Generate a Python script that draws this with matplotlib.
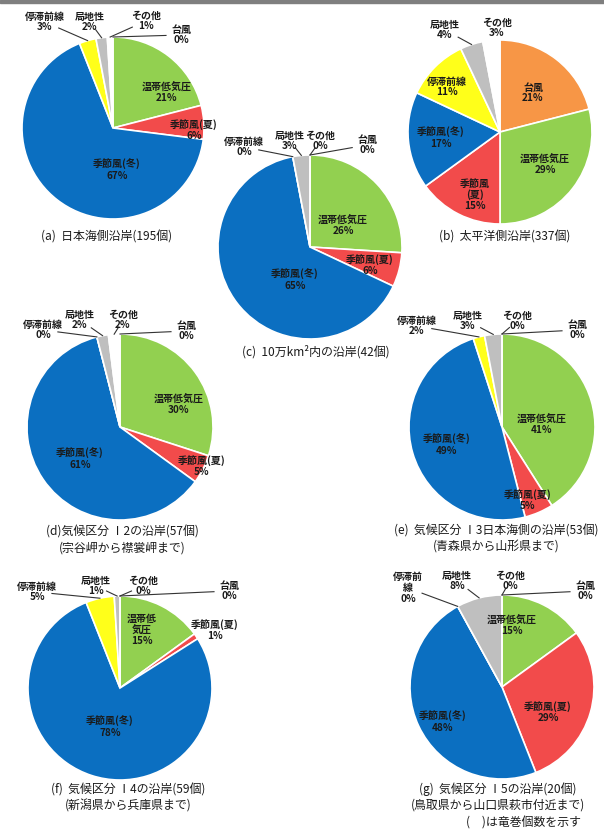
# tornado cause pie charts by coastal region

import numpy as np
import matplotlib
matplotlib.use('Agg')
import matplotlib.pyplot as plt
from matplotlib.patches import Rectangle

plt.rcParams['font.family'] = ['Noto Sans CJK JP', 'DejaVu Sans']

# categories, clockwise from 12 o'clock
causes = ['台風', '温帯低気圧', '季節風(夏)', '季節風(冬)', '停滞前線', '局地性', 'その他']
colors = ['#F79646', '#92D050', '#F24B4B', '#0B6FC1', '#FFFF1A', '#BFBFBF', '#FFFFFF']

# percentages per region (same order as causes)
pct_a = [0, 21, 6, 67, 3, 2, 1]
pct_b = [21, 29, 15, 17, 11, 4, 3]
pct_c = [0, 26, 6, 65, 0, 3, 0]
pct_d = [0, 30, 5, 61, 0, 2, 2]
pct_e = [0, 41, 5, 49, 2, 3, 0]
pct_f = [0, 15, 1, 78, 5, 1, 0]
pct_g = [0, 15, 29, 48, 0, 8, 0]

titles = [
    '(a)  日本海側沿岸(195個)',
    '(b)  太平洋側沿岸(337個)',
    '(c)  10万km²内の沿岸(42個)',
    '(d)気候区分 Ⅰ2の沿岸(57個)\n(宗谷岬から襟裳岬まで)',
    '(e)  気候区分 Ⅰ3日本海側の沿岸(53個)\n(青森県から山形県まで)',
    '(f)  気候区分 Ⅰ4の沿岸(59個)\n(新潟県から兵庫県まで)',
    '(g)  気候区分 Ⅰ5の沿岸(20個)\n(鳥取県から山口県萩市付近まで)',
]
data = [pct_a, pct_b, pct_c, pct_d, pct_e, pct_f, pct_g]

# layout in pixels (y from top): centre, radius, label centres, leader flags, title pos
layout = [
    dict(c=(113, 128), r=91, title=(107, 237),
         lab=[(181, 35), (167, 92), (194, 130), (117, 170), (45, 22), (90, 22), (146, 21)],
         lead=[1, 0, 0, 0, 1, 1, 1]),
    dict(c=(500, 132), r=92, title=(505, 237),
         lab=[(533, 93), (545, 164), (475, 195), (441, 138), (447, 87), (445, 30), (497, 28)],
         lead=[0, 0, 0, 0, 0, 1, 0]),
    dict(c=(310, 247), r=92, title=(316, 352),
         lab=[(367, 145), (343, 225), (370, 265), (295, 280), (244, 147), (290, 141), (320, 141)],
         lead=[1, 0, 0, 0, 1, 1, 1]),
    dict(c=(120, 427), r=93, title=(122, 540),
         lab=[(186, 331), (179, 404), (202, 466), (80, 459), (43, 330), (80, 320), (123, 320)],
         lead=[1, 0, 0, 0, 1, 1, 1]),
    dict(c=(502, 427), r=93, title=(496, 539),
         lab=[(577, 330), (542, 424), (528, 500), (447, 445), (417, 326), (468, 321), (517, 321)],
         lead=[1, 0, 0, 0, 1, 1, 1]),
    dict(c=(120, 688), r=92, title=(128, 798),
         lab=[(229, 591), (142, 630), (215, 630), (110, 727), (37, 592), (96, 586), (143, 586)],
         lead=[1, 0, 0, 0, 1, 1, 1]),
    dict(c=(502, 687), r=92, title=(498, 797),
         lab=[(585, 591), (512, 625), (548, 712), (443, 722), (408, 588), (457, 581), (510, 581)],
         lead=[1, 0, 0, 0, 1, 1, 1]),
]

# custom line breaks for a few labels: (chart index, cause index) -> name
name_breaks = {(1, 2): '季節風\n(夏)', (5, 1): '温帯低\n気圧', (6, 4): '停滞前\n線'}

W, H = 604, 836
fig = plt.figure(figsize=(W / 100, H / 100), dpi=100)
ax = fig.add_axes([0, 0, 1, 1])

for i, (vals, lay) in enumerate(zip(data, layout)):
    cx, cy = lay['c']
    r = lay['r']
    wedges, _ = ax.pie(vals, colors=colors, center=(cx, cy), radius=r,
                       startangle=-90, counterclock=True,
                       wedgeprops=dict(edgecolor='white', linewidth=1.2))
    for j, w in enumerate(wedges):
        name = name_breaks.get((i, j), causes[j])
        lx, ly = lay['lab'][j]
        ax.text(lx, ly, '%s\n%d%%' % (name, vals[j]), ha='center', va='center',
                fontsize=7.2, color='#1a1a1a', linespacing=1.1, fontweight='bold')
        if lay['lead'][j]:
            th = np.deg2rad((w.theta1 + w.theta2) / 2)
            ex, ey = cx + r * np.cos(th), cy + r * np.sin(th)
            d = np.array([ex - lx, ey - ly])
            L = np.hypot(*d)
            sx, sy = np.array([lx, ly]) + d / L * min(15, L * 0.5)
            ax.plot([sx, ex], [sy, ey], color='#333333', lw=0.8)

    tx, ty = lay['title']
    ax.text(tx, ty, titles[i], ha='center', va='center', fontsize=8.6,
            color='#1a1a1a', linespacing=1.25)

ax.text(523, 823, '(　)は竜巻個数を示す', ha='center', va='center',
        fontsize=8.6, color='#1a1a1a')

ax.set_xlim(0, W)
ax.set_ylim(H, 0)
ax.set_aspect('equal')
ax.axis('off')

fig.patches.append(Rectangle((0, 1 - 3 / H), 1, 3 / H, transform=fig.transFigure,
                             color='#7f7f7f'))

fig.savefig('out.png', dpi=100, facecolor='white')
